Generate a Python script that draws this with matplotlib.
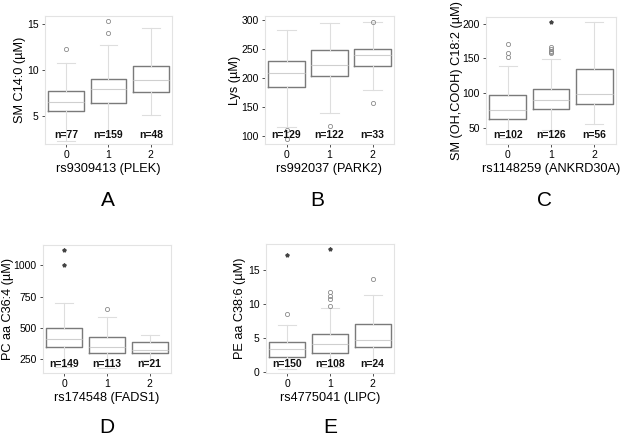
import matplotlib
matplotlib.use('Agg')
import matplotlib.pyplot as plt
import matplotlib.transforms as mtransforms

plt.rcParams['font.family'] = ['Liberation Sans', 'DejaVu Sans']

groups = ['0', '1', '2']

# panel A
a_med = [6.6, 8.0, 8.9]
a_q1 = [5.55, 6.4, 7.6]
a_q3 = [7.8, 9.05, 10.5]
a_lo = [2.3, 3.2, 5.1]
a_hi = [10.75, 12.75, 14.6]
a_out = [[12.35], [14.1, 15.4], []]
a_ext = [[], [], []]
a_n = [77, 159, 48]

# panel B
b_med = [209, 223, 240]
b_q1 = [184, 203, 220]
b_q3 = [230, 249, 250]
b_lo = [115, 140, 180]
b_hi = [283, 295, 297]
b_out = [[110, 94], [117], [296, 156]]
b_ext = [[], [], []]
b_n = [129, 122, 33]

# panel C
c_med = [75, 90, 98]
c_q1 = [63, 77.6, 83.7]
c_q3 = [97, 105.7, 134]
c_lo = [35, 47, 56]
c_hi = [139, 149, 202.4]
c_out = [[151.4, 158, 170], [157, 159, 161, 164, 167], []]
c_ext = [[], [203], []]
c_n = [102, 126, 56]

# panel D
d_med = [410, 346, 325]
d_q1 = [346, 298, 300]
d_q3 = [500, 425, 390]
d_lo = [190, 178, 240]
d_hi = [700, 590, 445]
d_out = [[], [650], []]
d_ext = [[1000, 1122], [], []]
d_n = [149, 113, 21]

# panel E
e_med = [3.37, 4.1, 4.65]
e_q1 = [2.28, 2.87, 3.66]
e_q3 = [4.45, 5.55, 7.06]
e_lo = [0.5, 0.7, 1.2]
e_hi = [6.9, 9.46, 11.3]
e_out = [[8.6], [9.7, 10.8, 11.25, 11.85], [13.8]]
e_ext = [[17.3], [18.1], []]
e_n = [150, 108, 24]

panels = [
    # data, ylabel, xlabel, yticks, ylim, letter, box px (l, r, t, b), letter px, ylabel right edge px
    ((a_med, a_q1, a_q3, a_lo, a_hi, a_out, a_ext, a_n), 'SM C14:0 (µM)', 'rs9309413 (PLEK)',
     [5, 10, 15], (2.0, 15.9), 'A', (45, 172, 16, 144), (108, 200), 26),
    ((b_med, b_q1, b_q3, b_lo, b_hi, b_out, b_ext, b_n), 'Lys (µM)', 'rs992037 (PARK2)',
     [100, 150, 200, 250, 300], (86, 307), 'B', (265, 394, 16, 144), (317, 200), 241),
    ((c_med, c_q1, c_q3, c_lo, c_hi, c_out, c_ext, c_n), 'SM (OH,COOH) C18:2 (µM)', 'rs1148259 (ANKRD30A)',
     [50, 100, 150, 200], (26.6, 209.5), 'C', (486, 616, 17, 144), (544, 200), 463),
    ((d_med, d_q1, d_q3, d_lo, d_hi, d_out, d_ext, d_n), 'PC aa C36:4 (µM)', 'rs174548 (FADS1)',
     [250, 500, 750, 1000], (138, 1162), 'D', (43, 171, 245, 373), (107, 427), 14.5),
    ((e_med, e_q1, e_q3, e_lo, e_hi, e_out, e_ext, e_n), 'PE aa C38:6 (µM)', 'rs4775041 (LIPC)',
     [0, 5, 10, 15], (-0.15, 18.9), 'E', (266, 394, 244, 373), (330, 427), 246),
]

W, H = 622, 436
fig = plt.figure(figsize=(W / 100, H / 100), dpi=100)

for data, ylab, xlab, yticks, ylim, letter, (l, r, t, b), (lx, ly), yl_x in panels:
    med, q1, q3, lo, hi, out, ext, ns = data
    ax = fig.add_axes([l / W, 1 - b / H, (r - l) / W, (b - t) / H])
    stats = []
    for i in range(3):
        stats.append({'med': med[i], 'q1': q1[i], 'q3': q3[i],
                      'whislo': lo[i], 'whishi': hi[i], 'fliers': out[i]})
    ax.bxp(stats, positions=[0, 1, 2], widths=0.85, showfliers=True,
           boxprops=dict(color='#7a7a7a', linewidth=1.0),
           medianprops=dict(color='#cfcfcf', linewidth=0.8),
           whiskerprops=dict(color='#dedede', linewidth=0.8),
           capprops=dict(color='#dedede', linewidth=0.8),
           capwidths=0.42,
           flierprops=dict(marker='o', markersize=3, markerfacecolor='none',
                           markeredgecolor='#8a8a8a', markeredgewidth=0.6))
    for i in range(3):
        if ext[i]:
            ax.plot([i] * len(ext[i]), ext[i], linestyle='none', marker='*',
                    markersize=2.8, color='#444444')
    trans = mtransforms.blended_transform_factory(ax.transData, ax.transAxes)
    for i in range(3):
        ax.text(i, 0.07, 'n=%d' % ns[i], transform=trans, ha='center', va='center',
                fontsize=7.5, fontweight='bold', color='#111111')
    ax.set_xlim(-0.5, 2.5)
    ax.set_ylim(*ylim)
    ax.set_yticks(yticks)
    ax.set_xticks([0, 1, 2])
    ax.set_xticklabels(groups)
    ax.tick_params(labelsize=7.5, length=2.5, width=0.6, color='#333333', pad=2)
    ax.set_ylabel(ylab, fontsize=9.2)
    ax.yaxis.set_label_coords((yl_x - l) / (r - l), 0.5)
    ax.set_xlabel(xlab, fontsize=9.2, labelpad=2)
    for s in ax.spines.values():
        s.set_color('#e3e3e3')
        s.set_linewidth(0.8)
    fig.text(lx / W, 1 - ly / H, letter, ha='center', va='center', fontsize=15)

fig.savefig('out.png', dpi=100)
